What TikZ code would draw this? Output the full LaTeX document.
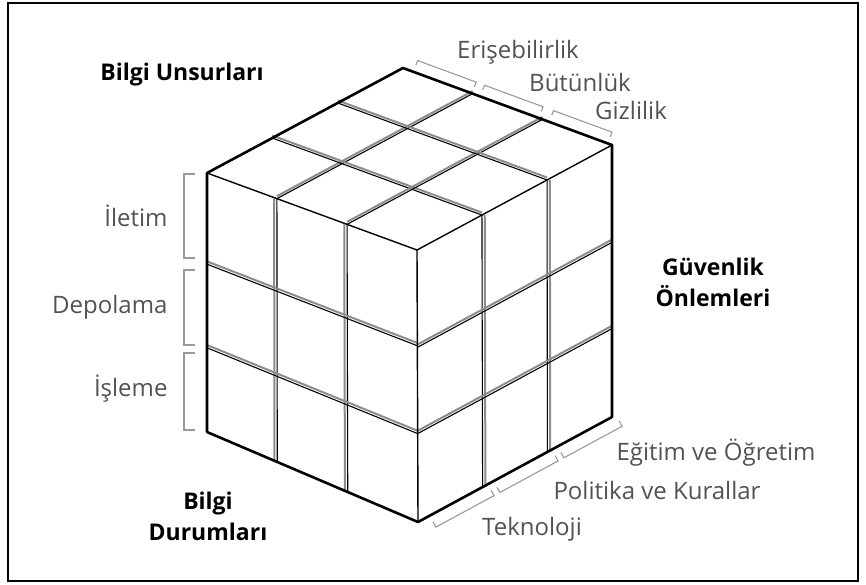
\documentclass[tikz,border=0pt]{standalone}
\usepackage{fontspec}
\setmainfont{Open Sans}
\usetikzlibrary{calc}

\tikzset{
  outline/.style={line width=2.6pt, line join=round},
  inneredge/.style={line width=1.4pt},
  gap/.style={draw=black!45, line width=2pt},
  seam/.style={draw=black, line width=1.1pt},
  brace/.style={draw=black!40, line width=1.1pt},
  lbl/.style={text=black!68, font=\fontsize{24}{28}\selectfont},
  title/.style={text=black, font=\fontsize{23}{31}\selectfont\bfseries, align=center},
}

\begin{document}
\begin{tikzpicture}[x=1pt, y=-1pt]
  \useasboundingbox (0,0) rectangle (866,584);
  \draw[line width=2pt] (8,3) rectangle (858,581);

  % cube corners
  \coordinate (T)  at (403,68);
  \coordinate (L)  at (207,173);
  \coordinate (F)  at (417,250);
  \coordinate (R)  at (612,145);
  \coordinate (LB) at (207,432);
  \coordinate (FB) at (418,522);
  \coordinate (RB) at (612,417);

  % top face
  \foreach \t in {0.333,0.667} {
    \draw[gap] ($(L)!\t!(F)+(0,-2.5)$) -- ($(T)!\t!(R)+(0,-2.5)$);
    \draw[seam] ($(L)!\t!(F)$) -- ($(T)!\t!(R)$);
    \draw[gap] ($(L)!\t!(T)+(0,-2.5)$) -- ($(F)!\t!(R)+(0,-2.5)$);
    \draw[seam] ($(L)!\t!(T)$) -- ($(F)!\t!(R)$);
  }

  % left face
  \foreach \t in {0.333,0.667} {
    \draw[gap] ($(L)!\t!(F)+(-2.8,0)$) -- ($(LB)!\t!(FB)+(-2.8,0)$);
    \draw[seam] ($(L)!\t!(F)$) -- ($(LB)!\t!(FB)$);
  }
  \foreach \s in {0.352,0.675} {
    \draw[gap] ($(L)!\s!(LB)+(0,-2.8)$) -- ($(F)!\s!(FB)+(0,-2.8)$);
    \draw[seam] ($(L)!\s!(LB)$) -- ($(F)!\s!(FB)$);
  }

  % right face
  \foreach \t in {0.333,0.667} {
    \draw[gap] ($(F)!\t!(R)+(2.8,0)$) -- ($(FB)!\t!(RB)+(2.8,0)$);
    \draw[seam] ($(F)!\t!(R)$) -- ($(FB)!\t!(RB)$);
  }
  \foreach \s in {0.358,0.675} {
    \draw[gap] ($(F)!\s!(FB)+(0,-2.8)$) -- ($(R)!\s!(RB)+(0,-2.8)$);
    \draw[seam] ($(F)!\s!(FB)$) -- ($(R)!\s!(RB)$);
  }

  % edges
  \draw[inneredge] (L) -- (F) -- (R) (F) -- (FB);
  \draw[outline] (L) -- (T) -- (R) -- (RB) -- (FB) -- (LB) -- cycle;

  % braces on the top edge
  \foreach \a/\b in {0.05/0.33,0.37/0.65,0.70/0.98}
    \draw[brace] ($(T)!\a!(R)+(2.4,-6.6)$) -- ($(T)!\a!(R)+(4.2,-11.3)$)
      -- ($(T)!\b!(R)+(4.2,-11.3)$) -- ($(T)!\b!(R)+(2.4,-6.6)$);

  % braces on the bottom edge
  \foreach \a/\b in {0.06/0.36,0.39/0.69,0.72/1.02}
    \draw[brace] ($(FB)!\a!(RB)+(3.3,6.2)$) -- ($(FB)!\a!(RB)+(6.2,11.4)$)
      -- ($(FB)!\b!(RB)+(6.2,11.4)$) -- ($(FB)!\b!(RB)+(3.3,6.2)$);

  % braces on the left edge
  \foreach \a/\b in {174/258,270/345,353/430}
    \draw[brace] (195,\a) -- (184,\a) -- (184,\b) -- (195,\b);

  % labels
  \node[title] (unsur) at (182,75) {Bilgi Unsurları};
  \node[title] (durum) at (208,516) {Bilgi\\Durumları};
  \node[title] (onlem) at (713,282) {Güvenlik\\Önlemleri};

  \node[lbl] (erisim) at (518,52) {Erişebilirlik};
  \node[lbl] (butun) at (580,82) {Bütünlük};
  \node[lbl] (gizli) at (631,110) {Gizlilik};

  \node[lbl, anchor=east] (iletim) at (171,216) {İletim};
  \node[lbl, anchor=east] (depo) at (171,307) {Depolama};
  \node[lbl, anchor=east] (isleme) at (171,389) {İşleme};

  \node[lbl] (egitim) at (716,453) {Eğitim ve Öğretim};
  \node[lbl] (politika) at (657,490) {Politika ve Kurallar};
  \node[lbl] (tekno) at (532,529) {Teknoloji};
\end{tikzpicture}
\end{document}
